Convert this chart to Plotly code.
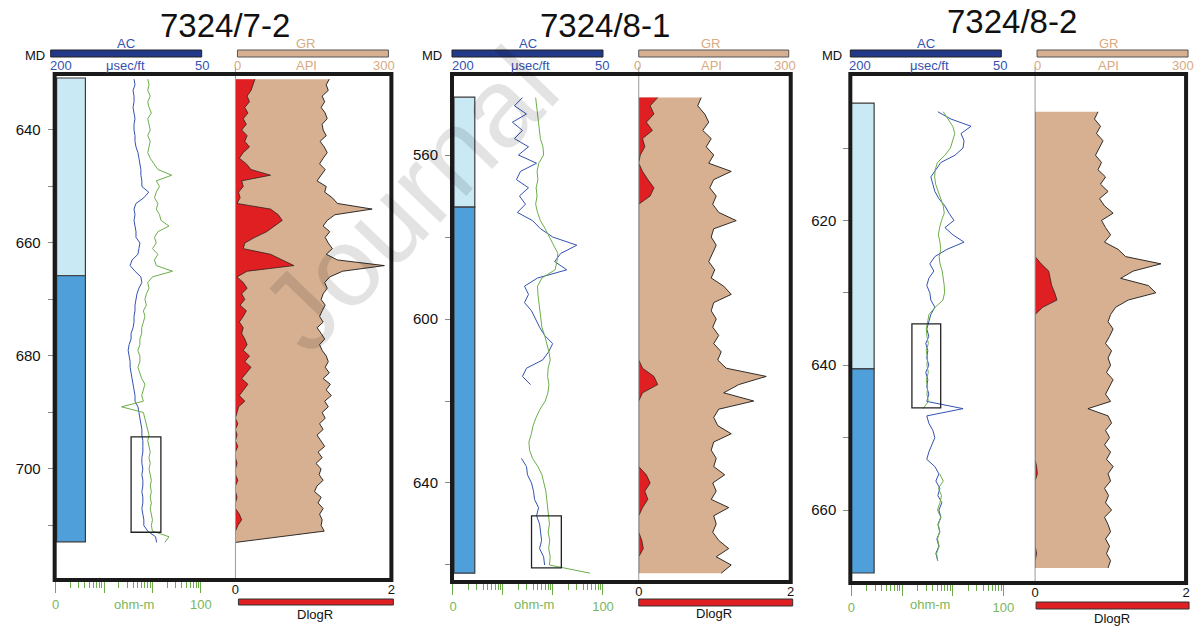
import numpy as np
import plotly.graph_objects as go

W, H = 1201, 628

# ======================= DATA =======================
well_names = ["7324/7-2", "7324/8-1", "7324/8-2"]

# ---- well 7324/7-2 (sampled every 1 m from 631 m MD)
p1_top, p1_step = 631, 1
p1_ac = [118, 117, 119, 118, 118, 119, 118, 117, 118, 118,
         117, 117, 116, 114, 113, 112, 111, 111, 110, 110,
         103, 108, 116, 118, 117, 118, 117, 116, 116, 112,
         113, 114, 120, 122, 117, 111, 110, 113, 115, 116,
         117, 117, 118, 118, 119, 121, 121, 123, 124, 123,
         122, 122, 121, 120, 119, 118, 117, 117, 114, 113,
         112, 111, 110, 110, 109, 109, 109, 110, 110, 109,
         110, 109, 109, 110, 109, 109, 110, 109, 108, 108,
         104, 96, 95]
p1_res = [8, 8.5, 8, 9, 8, 8.5, 9.5, 8, 8.5, 9,
          8, 9, 8.5, 8, 9, 11, 13, 25, 12, 14,
          12, 11, 13, 12, 14, 15, 22, 13, 11, 12,
          10, 13, 11, 12, 26, 10, 8, 8.5, 7.5, 7,
          7.5, 6.5, 7, 6.5, 6, 6, 5.5, 5.5, 5, 5.5,
          5.5, 5, 5.5, 6, 7, 6.5, 6, 6.5, 2.3, 6.5,
          7, 7.5, 8, 8.5, 8, 8.5, 9, 8.5, 9, 8.5,
          9, 9.5, 9, 9.5, 9, 9.5, 9, 9.5, 10, 9.5,
          10, 22, 18]
p1_gr = [184, 178, 182, 170, 175, 168, 176, 180, 170, 172,
         178, 166, 174, 180, 172, 165, 176, 168, 160, 178,
         175, 190, 200, 268, 195, 180, 172, 185, 176, 182,
         190, 178, 200, 292, 210, 185, 175, 180, 172, 168,
         176, 170, 165, 172, 160, 168, 175, 165, 170, 178,
         182, 176, 184, 172, 186, 178, 188, 175, 182, 170,
         176, 165, 172, 160, 168, 175, 162, 170, 158, 168,
         164, 172, 160, 155, 168, 162, 172, 165, 170, 168,
         174, 88, 0]
p1_dlogr = [0.25, 0.22, 0.2, 0.15, 0.18, 0.12, 0.16, 0.1, 0.14, 0.08,
            0.15, 0.12, 0.18, 0.1, 0.05, 0.14, 0.2, 0.45, 0.08, 0.1,
            0.04, 0.06, 0.02, 0.45, 0.55, 0.6, 0.5, 0.4, 0.25, 0.12,
            0.1, 0.45, 0.6, 0.75, 0.15, 0.02, 0.1, 0.15, 0.08, 0.12,
            0.06, 0.14, 0.1, 0.05, 0.1, 0.08, 0.12, 0.15, 0.1, 0.18,
            0.12, 0.2, 0.14, 0.08, 0.16, 0.1, 0.05, 0.12, 0.04, 0.02,
            0, 0.03, 0, 0.02, 0, 0.03, 0, 0, 0.02, 0,
            0, 0.03, 0, 0, 0.02, 0, 0, 0.05, 0.08, 0.03,
            0, 0, 0]
p1_unit_top = [630.8, 665.8]
p1_unit_base = [665.8, 712.9]
p1_box_depth = [694.3, 711.2]
p1_box_ac = [121.0, 90.6]
p1_ticks = [640, 650, 660, 670, 680, 690, 700, 710]
p1_ticklabels = ["640", "", "660", "", "680", "", "700", ""]

# ---- well 7324/8-1 (sampled every 2 m from 546 m MD)
p2_top, p2_step = 546, 2
p2_ac = [130, 138, 126, 140, 130, 138, 124, 134, 116, 132,
         136, 124, 133, 127, 135, 120, 112, 100, 76, 92,
         98, 86, 115, 128, 124, 128, 121, 117, 113, 108,
         100, 104, 110, 126, 130, 122, None, None, None, None,
         None, None, None, None, 131, 126, 125, 121, 119, 118,
         114, 116, 113, 112, 111, 113, 109, 108, None]
p2_res = [4.5, 4.7, 4.8, 5.0, 5.3, 5.6, 6.3, 6.5, 5.2, 4.8,
          5.0, 4.6, 4.8, 4.5, 4.9, 5.6, 7.0, 8.5, 10.5, 12.5,
          12.0, 11.0, 6.0, 4.9, 5.0, 5.2, 5.4, 5.6, 6.0, 6.8,
          7.5, 8.3, 8.8, 8.0, 7.8, 8.3, 7.9, 7.0, 5.5, 4.6,
          4.0, 3.7, 3.3, 3.4, 3.9, 5.0, 6.0, 6.5, 7.2, 7.5,
          7.8, 8.2, 8.5, 8.0, 8.6, 8.2, 8.8, 8.5, 55]
p2_gr = [125, 118, 132, 140, 128, 145, 135, 150, 140, 185,
         150, 142, 155, 148, 160, 195, 150, 145, 155, 148,
         140, 152, 145, 170, 185, 150, 145, 155, 148, 160,
         150, 165, 158, 175, 255, 200, 170, 230, 160, 150,
         158, 185, 150, 145, 155, 150, 172, 148, 155, 145,
         180, 150, 155, 148, 160, 180, 155, 185, 165]
p2_dlogr = [0.25, 0.15, 0.2, 0.1, 0.18, 0.05, 0.08, 0.02, 0, 0.05,
            0.12, 0.2, 0.15, 0, 0, 0, 0, 0, 0, 0,
            0, 0, 0, 0, 0, 0, 0, 0, 0, 0,
            0, 0, 0, 0.05, 0.2, 0.25, 0.05, 0, 0, 0,
            0, 0, 0, 0, 0, 0, 0.1, 0.15, 0.08, 0.12,
            0.05, 0, 0, 0, 0.04, 0.06, 0, 0, 0]
p2_unit_top = [545.9, 572.7]
p2_unit_base = [572.7, 662.0]
p2_box_depth = [648.0, 660.7]
p2_box_ac = [121.0, 91.4]
p2_ticks = [560, 580, 600, 620, 640, 660]
p2_ticklabels = ["560", "", "600", "", "640", ""]

# ---- well 7324/8-2 (sampled every 1 m from 605 m MD)
p3_top, p3_step = 605, 1
p3_ac = [113, 100, 80, 90, 87, 88, 96, 110, 115, 120,
         118, 116, 112, 106, 102, 97, 106, 98, 87, 104,
         116, 121, 117, 122, 124, 121, 120, 116, 120, 122,
         124, 122, 125, 123, 124, 122, 125, 123, 124, 122,
         124, 88, 124, 122, 118, 116, 119, 122, 124, 116,
         112, 115, 111, 113, 109, 112, 110, 113, 111, 114,
         112, 115, 113, None]
p3_res = [6.5, 8, 10, 11, 10, 9, 7, 5, 4.5, 4.4,
          4.6, 5.2, 5.8, 6.5, 6.8, 6, 5.5, 5.2, 5.6, 5.8,
          5.4, 5.6, 6.2, 6.6, 6.8, 6.9, 6.4, 4.5, 3.4, 3.2,
          3.0, 3.1, 3.3, 3.0, 3.2, 3.1, 3.3, 3.0, 3.2, 3.1,
          3.3, 2.6, None, None, None, None, None, None, None, None,
          5.5, 6.5, 5.2, 6.0, 5.6, 5.0, 5.8, 5.2, 5.5, 5.0,
          5.4, 4.8, 5.0, None]
p3_gr = [125, 118, 130, 122, 135, 128, 120, 132, 125, 140,
         130, 145, 128, 138, 155, 132, 140, 150, 138, 165,
         180, 250, 195, 170, 225, 240, 185, 160, 150, 145,
         155, 148, 140, 152, 145, 150, 142, 155, 148, 140,
         150, 105, 145, 152, 140, 148, 138, 150, 142, 155,
         145, 150, 138, 146, 140, 152, 138, 145, 150, 140,
         148, 142, 150, 145]
p3_dlogr = [0, 0, 0, 0, 0, 0, 0, 0, 0, 0,
            0, 0, 0, 0, 0, 0, 0, 0, 0, 0,
            0, 0.08, 0.18, 0.2, 0.22, 0.26, 0.29, 0.1, 0, 0,
            0, 0, 0, 0, 0, 0, 0, 0, 0, 0,
            0, 0, 0, 0, 0, 0, 0, 0, 0, 0.02,
            0.03, 0, 0, 0, 0, 0, 0, 0, 0, 0,
            0, 0.02, 0, 0]
p3_unit_top = [603.8, 640.5]
p3_unit_base = [640.5, 668.7]
p3_box_depth = [634.3, 645.9]
p3_box_ac = [138.8, 110.2]
p3_ticks = [610, 620, 630, 640, 650, 660]
p3_ticklabels = ["", "620", "", "640", "", "660"]

res_major = [0.1, 1, 10, 100]
res_major_labels = ["0", "", "", "100"]
res_minor = [0.2, 0.3, 0.4, 0.5, 0.6, 0.7, 0.8, 0.9,
             2, 3, 4, 5, 6, 7, 8, 9,
             20, 30, 40, 50, 60, 70, 80, 90]
dlogr_ticks = [0, 2]
dlogr_ticklabels = ["0", "2"]

# ======================= STYLE / LAYOUT =======================
FONT = "Liberation Sans, Arial, sans-serif"
C_AC = "#3352b0"
C_ACBAR = "#22398a"
C_RES = "#6cad4a"
C_RESTXT = "#7ab65c"
C_GR = "#d6b091"
C_GRTXT = "#d8aa82"
C_RED = "#e01f22"
C_LIGHT = "#c9e9f5"
C_DARK = "#4f9fdb"

panels = [
    dict(top=p1_top, step=p1_step, ac=p1_ac, res=p1_res, gr=p1_gr, dl=p1_dlogr,
         ut=p1_unit_top, ub=p1_unit_base, bd=p1_box_depth, ba=p1_box_ac,
         ticks=p1_ticks, tlab=p1_ticklabels,
         left=51, div=233, right=390, ytop=74, ybot=580,
         drange=[719.65, 630.09], acr=[199, 14.5], rr=[-1.02, 2.715],
         grr=[0, 305.8], dlr=[0, 2.0], col=182.3, colw=29.4,
         title=(222, 25), acbar=(47, 199), grbar=(235, 387),
         ac_lbl=123, gr_lbl=304, l200=57.5, usec=122.5, l50=199,
         g0=235, api=305, g300=383, md=31,
         dlbar=(236, 392, 599, 605), dltxt=(313, 614), ohm=131),
    dict(top=p2_top, step=p2_step, ac=p2_ac, res=p2_res, gr=p2_gr, dl=p2_dlogr,
         ut=p2_unit_top, ub=p2_unit_base, bd=p2_box_depth, ba=p2_box_ac,
         ticks=p2_ticks, tlab=p2_ticklabels,
         left=451, div=639, right=792, ytop=74, ybot=582,
         drange=[664.15, 540.24], acr=[200, 14.5], rr=[-1.02, 2.715],
         grr=[0, 304], dlr=[0, 2.0], col=187.7, colw=20.7,
         title=(605, 26), acbar=(451, 603), grbar=(639, 790),
         ac_lbl=528, gr_lbl=712, l200=462, usec=530, l50=602,
         g0=638, api=712, g300=786, md=431,
         dlbar=(639, 794, 599, 606), dltxt=(715, 613), ohm=534),
    dict(top=p3_top, step=p3_step, ac=p3_ac, res=p3_res, gr=p3_gr, dl=p3_dlogr,
         ut=p3_unit_top, ub=p3_unit_base, bd=p3_box_depth, ba=p3_box_ac,
         ticks=p3_ticks, tlab=p3_ticklabels,
         left=852, div=1038, right=1190, ytop=74, ybot=583,
         drange=[670.08, 599.78], acr=[200, 16.4], rr=[-1.02, 2.624],
         grr=[0, 300], dlr=[0, 2.0], col=187.7, colw=22.7,
         title=(1015, 21), acbar=(852, 1004), grbar=(1040, 1192),
         ac_lbl=928, gr_lbl=1112, l200=862, usec=932, l50=1003,
         g0=1040, api=1112, g300=1187, md=834,
         dlbar=(1039, 1193, 602, 609), dltxt=(1115, 618), ohm=932),
]


def px(x):
    return x / W


def py(y):
    return 1 - y / H


def axname(kind, n):
    return kind if n == 1 else f"{kind}{n}"


fig = go.Figure()
layout = {}
shapes = []
annotations = []


def ann(text, x, y, size, color, xanchor="center"):
    annotations.append(dict(text=text, x=px(x), y=py(y), xref="paper", yref="paper",
                            xanchor=xanchor, yanchor="middle", showarrow=False,
                            font=dict(size=size, color=color, family=FONT)))


for i, p in enumerate(panels):
    n = len(p["ac"])
    depth = p["top"] + p["step"] * np.arange(n)
    yn = i + 1
    xac, xres, xgr, xdl = 4 * i + 1, 4 * i + 2, 4 * i + 3, 4 * i + 4
    yref = axname("y", yn)

    # formation column
    fig.add_trace(go.Bar(
        x=[p["col"]] * len(p["ut"]),
        y=[b - t for t, b in zip(p["ut"], p["ub"])],
        base=p["ut"], width=p["colw"],
        marker=dict(color=[C_LIGHT, C_DARK], line=dict(color="#3a3a3a", width=1.2)),
        xaxis=axname("x", xac), yaxis=yref, showlegend=False, hoverinfo="skip"))
    # AC
    fig.add_trace(go.Scatter(
        x=p["ac"], y=depth, mode="lines", line=dict(color=C_AC, width=1),
        xaxis=axname("x", xac), yaxis=yref, showlegend=False, connectgaps=False))
    # resistivity
    fig.add_trace(go.Scatter(
        x=p["res"], y=depth, mode="lines", line=dict(color=C_RES, width=1),
        xaxis=axname("x", xres), yaxis=yref, showlegend=False, connectgaps=False))
    # GR fill
    fig.add_trace(go.Scatter(
        x=p["gr"], y=depth, mode="lines", fill="tozerox", fillcolor=C_GR,
        line=dict(color="#1a1a1a", width=0.9),
        xaxis=axname("x", xgr), yaxis=yref, showlegend=False))
    # DlogR fill
    fig.add_trace(go.Scatter(
        x=p["dl"], y=depth, mode="lines", fill="tozerox", fillcolor=C_RED,
        line=dict(color="#1a1a1a", width=0.7),
        xaxis=axname("x", xdl), yaxis=yref, showlegend=False))

    ydom = [py(p["ybot"]), py(p["ytop"])]
    layout[axname("yaxis", yn)] = dict(
        domain=ydom, range=p["drange"], anchor=axname("x", xac),
        tickmode="array", tickvals=p["ticks"], ticktext=p["tlab"],
        ticks="outside", ticklen=6, tickcolor="#8a8a8a", tickwidth=1,
        ticklabelstandoff=4,
        tickfont=dict(size=15, color="#111", family=FONT),
        showgrid=False, zeroline=False, showline=False)
    layout[axname("xaxis", xac)] = dict(
        domain=[px(p["left"]), px(p["div"])], range=p["acr"], anchor=yref,
        showticklabels=False, ticks="", showgrid=False, zeroline=False, showline=False)
    layout[axname("xaxis", xres)] = dict(
        type="log", range=p["rr"], overlaying=axname("x", xac), anchor=yref, side="bottom",
        tickmode="array", tickvals=res_major, ticktext=res_major_labels,
        ticks="outside", ticklen=12, tickcolor=C_RES, tickwidth=1,
        tickfont=dict(size=13, color=C_RESTXT, family=FONT),
        minor=dict(tickmode="array", tickvals=res_minor, ticks="outside", ticklen=7,
                   tickcolor=C_RES, tickwidth=1, showgrid=False),
        showgrid=False, zeroline=False, showline=False)
    layout[axname("xaxis", xgr)] = dict(
        domain=[px(p["div"]), px(p["right"])], range=p["grr"], anchor=yref,
        showticklabels=False, ticks="", showgrid=False, zeroline=False, showline=False)
    layout[axname("xaxis", xdl)] = dict(
        range=p["dlr"], overlaying=axname("x", xgr), anchor=yref, side="bottom",
        tickmode="array", tickvals=dlogr_ticks, ticktext=dlogr_ticklabels, ticks="",
        tickfont=dict(size=13, color="#111", family=FONT),
        showgrid=False, zeroline=False, showline=False)

    # highlight rectangle
    shapes.append(dict(type="rect", xref=axname("x", xac), yref=yref,
                       x0=p["ba"][0], x1=p["ba"][1], y0=p["bd"][0], y1=p["bd"][1],
                       line=dict(color="#222", width=1.3), fillcolor="rgba(0,0,0,0)"))
    # track divider
    shapes.append(dict(type="line", xref="paper", yref="paper",
                       x0=px(p["div"]), x1=px(p["div"]), y0=py(p["ybot"]), y1=py(67),
                       line=dict(color="#9a9a9a", width=1), layer="above"))
    # outer frame
    shapes.append(dict(type="rect", xref="paper", yref="paper",
                       x0=px(p["left"]), x1=px(p["right"]), y0=py(p["ybot"]), y1=py(p["ytop"]),
                       line=dict(color="#1a1a1a", width=4), layer="above"))
    # header bars
    shapes.append(dict(type="rect", xref="paper", yref="paper",
                       x0=px(p["acbar"][0]), x1=px(p["acbar"][1]), y0=py(57), y1=py(50),
                       fillcolor=C_ACBAR, line=dict(color="#222", width=1)))
    shapes.append(dict(type="rect", xref="paper", yref="paper",
                       x0=px(p["grbar"][0]), x1=px(p["grbar"][1]), y0=py(57), y1=py(50),
                       fillcolor=C_GR, line=dict(color="#555", width=1)))
    d = p["dlbar"]
    shapes.append(dict(type="rect", xref="paper", yref="paper",
                       x0=px(d[0]), x1=px(d[1]), y0=py(d[3]), y1=py(d[2]),
                       fillcolor=C_RED, line=dict(color="#333", width=1)))

    ann(well_names[i], p["title"][0], p["title"][1], 33, "#111")
    ann("MD", p["md"], 55, 13, "#111")
    ann("AC", p["ac_lbl"], 44, 13, C_AC)
    ann("200", p["l200"], 66, 13, C_AC)
    ann("μsec/ft", p["usec"], 66, 13, C_AC)
    ann("50", p["l50"], 66, 13, C_AC)
    ann("GR", p["gr_lbl"], 44, 13, C_GRTXT)
    ann("0", p["g0"], 66, 13, C_GRTXT)
    ann("API", p["api"], 66, 13, C_GRTXT)
    ann("300", p["g300"], 66, 13, C_GRTXT)
    ann("ohm-m", p["ohm"], 604, 13, C_RESTXT)
    ann("DlogR", p["dltxt"][0], p["dltxt"][1], 13, "#111")

# faint diagonal watermark of the source page
annotations.append(dict(text="Journal", x=px(408), y=py(200), xref="paper", yref="paper",
                        xanchor="center", yanchor="middle", showarrow=False, textangle=-46,
                        font=dict(size=112, color="rgba(0,0,0,0.11)", family=FONT)))

fig.update_layout(
    width=W, height=H, autosize=False,
    margin=dict(l=0, r=0, t=0, b=0),
    paper_bgcolor="white", plot_bgcolor="white",
    barmode="overlay", showlegend=False,
    shapes=shapes, annotations=annotations,
    font=dict(family=FONT),
    **layout)

fig.write_html("out.html")
